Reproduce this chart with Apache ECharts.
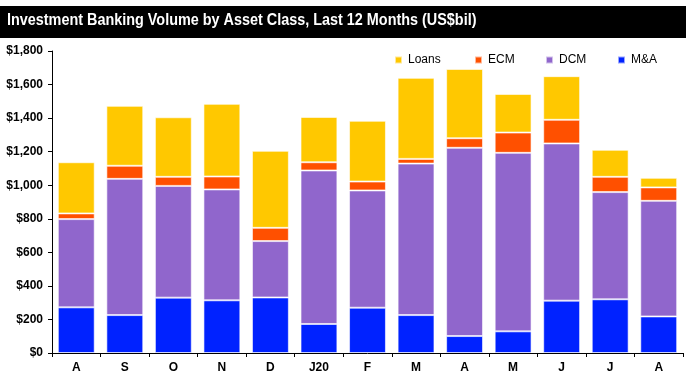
<!DOCTYPE html>
<html>
<head>
<meta charset="utf-8">
<script src="https://cdn.jsdelivr.net/npm/echarts@6/dist/echarts.min.js"></script>
<style>
html,body{margin:0;padding:0;background:#fff;}
#c{width:691px;height:388px;}
</style>
</head>
<body>
<div id="c"></div>
<script>
const categories = ['A','S','O','N','D','J20','F','M','A','M','J','J','A'];
const mna   = [272,226,330,314,331,173,270,226,101,129,312,320,218];
const dcm   = [526,812,666,661,336,915,699,903,1122,1064,937,639,689];
const ecm   = [34,78,54,77,79,49,53,28,57,121,141,91,80];
const loans = [305,357,355,433,459,270,362,483,413,230,260,161,57];
const yTicks = [0,200,400,600,800,1000,1200,1400,1600,1800];

const colors = {loans:'#FFC800', ecm:'#FF5000', dcm:'#9066CC', mna:'#0022FF'};

function fmt(v){ return '$' + v.toLocaleString('en-US'); }

const chart = echarts.init(document.getElementById('c'), null, {renderer:'canvas'});
const barStyle = (c)=>({color:c, borderColor:'rgba(255,255,255,0.6)', borderWidth:1});
const legendBase = {top:49, itemWidth:7, itemHeight:7, icon:'rect', itemGap:0,
  textStyle:{fontFamily:'Liberation Sans', fontSize:12, color:'#000', padding:[0,0,0,1]}};
chart.setOption({
  animation:false,
  graphic:[
    {type:'rect', shape:{x:0,y:6,width:686,height:32}, style:{fill:'#000'}},
    {type:'text', x:7, y:13, scaleX:0.9, style:{text:'Investment Banking Volume by Asset Class, Last 12 Months (US$bil)',
      fill:'#fff', font:'bold 16px "Liberation Sans", Arial'}}
  ],
  legend:[
    Object.assign({left:389, data:['Loans']}, legendBase),
    Object.assign({left:469, data:['ECM']}, legendBase),
    Object.assign({left:540, data:['DCM']}, legendBase),
    Object.assign({left:612, data:['M&A']}, legendBase)
  ],
  grid:{left:52, right:8, top:51, bottom:35},
  xAxis:{type:'category', data:categories,
    axisLine:{lineStyle:{color:'#000', width:1}},
    axisTick:{show:true, length:4, lineStyle:{color:'#000'}},
    axisLabel:{fontFamily:'Liberation Sans', fontWeight:'bold', fontSize:12, color:'#000', margin:9}
  },
  yAxis:{type:'value', min:0, max:1800, interval:200,
    axisLine:{show:true, lineStyle:{color:'#000', width:1}},
    axisTick:{show:true, length:4, lineStyle:{color:'#000'}},
    splitLine:{show:false},
    axisLabel:{fontFamily:'Liberation Sans', fontWeight:'bold', fontSize:12, color:'#000', margin:9,
      formatter:(v)=> yTicks.includes(v) ? fmt(v) : ''}
  },
  series:[
    {name:'M&A', type:'bar', stack:'t', data:mna, barCategoryGap:'24%', itemStyle:barStyle(colors.mna)},
    {name:'DCM', type:'bar', stack:'t', data:dcm, itemStyle:barStyle(colors.dcm)},
    {name:'ECM', type:'bar', stack:'t', data:ecm, itemStyle:barStyle(colors.ecm)},
    {name:'Loans', type:'bar', stack:'t', data:loans, itemStyle:barStyle(colors.loans)}
  ]
});
</script>
</body>
</html>
